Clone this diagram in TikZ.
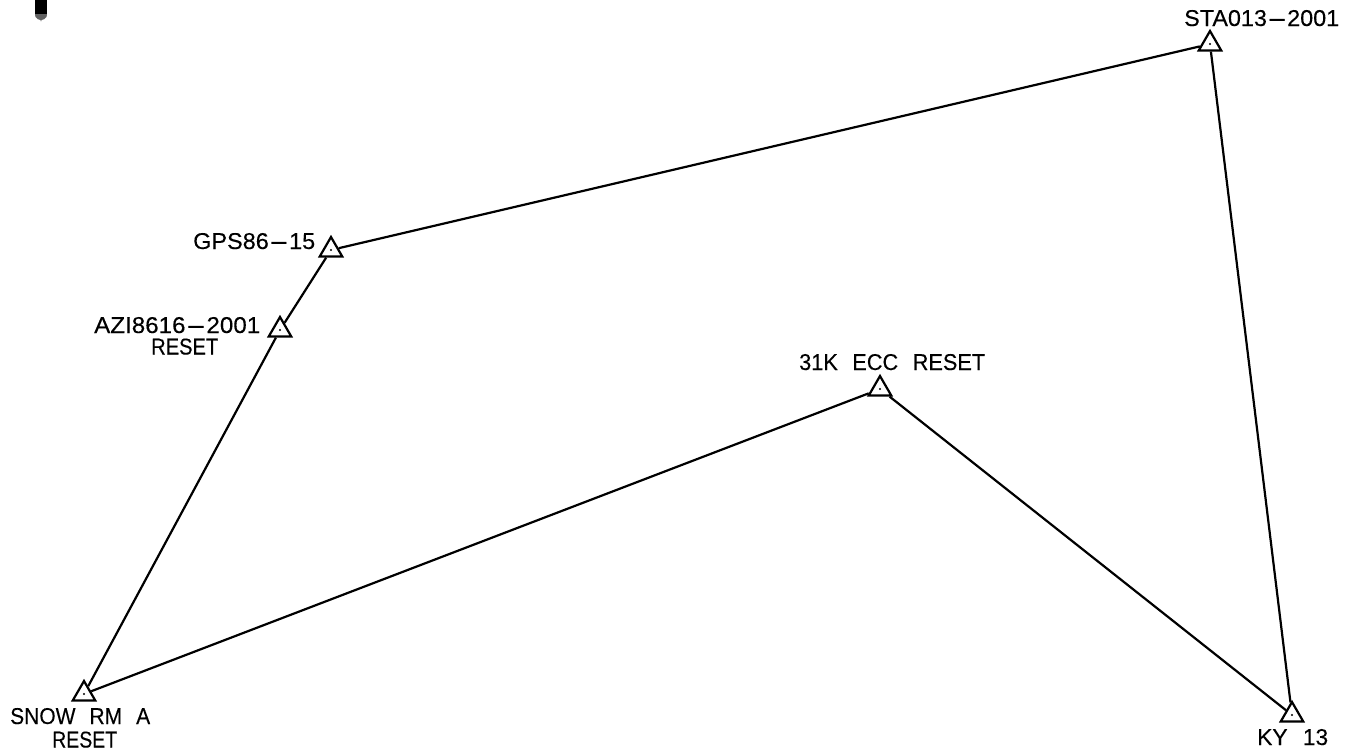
\documentclass[tikz,border=0pt]{standalone}
\usepackage{fontspec}
\usetikzlibrary{shapes.geometric}
\setmainfont{Liberation Sans}[WordSpace=2.4,FakeBold=0.2]
\newcommand{\dsh}{\scalebox{2.6}[1]{-}}
\newcommand{\fitlab}[2]{\resizebox{#1pt}{16pt}{#2}}
\tikzset{
  x=1pt,y=-1pt,
  station/.style={regular polygon,regular polygon sides=3,draw=black,line width=2.2pt,inner sep=0pt,minimum size=26pt},
  leg/.style={draw=black,line width=2.2pt},
  lab/.style={anchor=base west,inner sep=0pt,font=\fontsize{22}{22}\selectfont,text=black},
}
\begin{document}
\begin{tikzpicture}
\useasboundingbox (0,0) rectangle (1353,750);
% stations
\node[station] (gps) at (331,250) {};
\node[station] (azi) at (280,330) {};
\node[station] (snow) at (84,694) {};
\node[station] (sta) at (1210,44) {};
\node[station] (ky) at (1292,715) {};
\node[station] (ecc) at (880,389) {};
% centre dots
\foreach \n in {gps,azi,snow,sta,ky,ecc} \fill[black] (\n.center) circle (1.1pt);
% legs
\draw[leg] (snow) -- (azi);
\draw[leg] (azi) -- (gps);
\draw[leg] (gps) -- (sta);
\draw[leg] (sta) -- (ky);
\draw[leg] (ky) -- (ecc);
\draw[leg] (ecc) -- (snow);
% labels
\node[lab] (tgps) at (193,249) {\fitlab{122}{GPS86\dsh15}};
\node[lab] (tazi) at (94,333) {\fitlab{166}{AZI8616\dsh2001}};
\node[lab] (tazi2) at (151,354.5) {\fitlab{67}{RESET}};
\node[lab] (tsnow) at (10,724) {\fitlab{140}{SNOW RM A}};
\node[lab] (tsnow2) at (52,747.5) {\fitlab{65}{RESET}};
\node[lab] (tsta) at (1184,26) {\fitlab{155}{STA013\dsh2001}};
\node[lab] (tky) at (1257,745) {\fitlab{71}{KY 13}};
\node[lab] (tecc) at (799,370) {\fitlab{186}{31K ECC RESET}};
% north arrow remnant
\fill[black] (35,0) -- (47,0) -- (47,14) -- (35,14) -- cycle;
\fill[black!62] (35,14) -- (47,14) -- (46.5,17) .. controls (45,19) and (43,20) .. (41.5,20) -- (41,21.5) -- (40.5,20) .. controls (39,20) and (37,19) .. (35.5,17) -- cycle;
\end{tikzpicture}
\end{document}
